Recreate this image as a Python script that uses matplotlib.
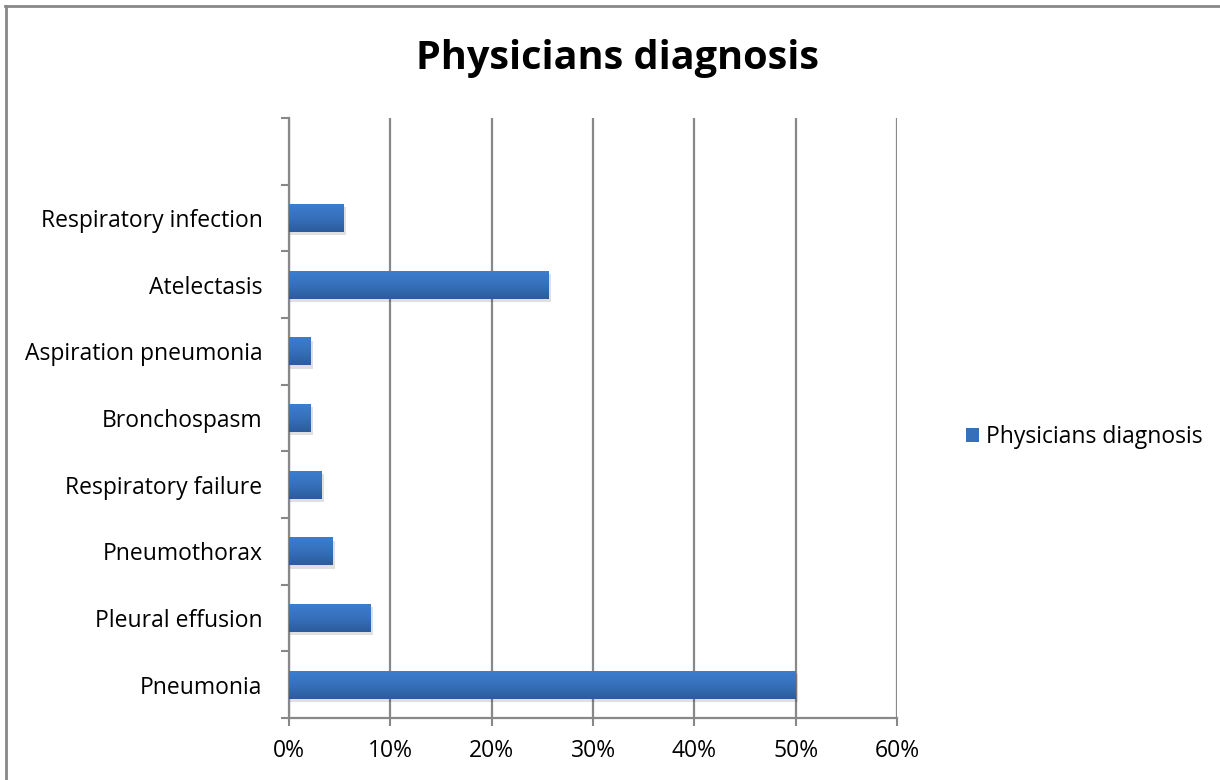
import matplotlib.pyplot as plt
import numpy as np
from matplotlib.lines import Line2D
from matplotlib.colors import LinearSegmentedColormap

# data (bottom to top), last slot is empty
categories = ['Pneumonia', 'Pleural effusion', 'Pneumothorax', 'Respiratory failure',
              'Bronchospasm', 'Aspiration pneumonia', 'Atelectasis', 'Respiratory infection']
values = [50.0, 8.0, 4.3, 3.25, 2.15, 2.15, 25.6, 5.35]
xticks = [0, 10, 20, 30, 40, 50, 60]
series_name = 'Physicians diagnosis'

plt.rcParams['font.family'] = ['Open Sans', 'DejaVu Sans']

fig = plt.figure(figsize=(12.2, 7.8), dpi=100)
ax = fig.add_axes([289/1220, 1-718/780, (897-289)/1220, (718-118)/780])

y = np.arange(len(categories))
bars = ax.barh(y, values, height=0.42, color='#3670bb', zorder=3)

# gradient + soft shadow for each bar
grad = np.linspace(0, 1, 64).reshape(-1, 1)
cmap = LinearSegmentedColormap.from_list('g', ['#3d7dcf', '#3670bb', '#2c5c9b'])
for b in bars:
    x0, y0 = b.get_x(), b.get_y()
    w, h = b.get_width(), b.get_height()
    ax.barh(y0 + h/2 - 0.05, w + 0.25, height=h, left=x0, color='#000000', alpha=0.12,
            zorder=2, linewidth=0)
    im = ax.imshow(grad, extent=[x0, x0 + w, y0, y0 + h], aspect='auto', cmap=cmap,
                   origin='upper', zorder=4)
    im.set_clip_path(b)

ax.set_xlim(0, 60)
ax.set_ylim(-0.5, len(categories) + 0.5)
ax.set_xticks(xticks)
ax.set_xticklabels([f'{t}%' for t in xticks], fontsize=16.5)
ax.set_yticks(y)
ax.set_yticklabels(categories, fontsize=16.5)
ax.set_yticks(np.arange(-0.5, len(categories) + 1, 1), minor=True)
ax.tick_params(axis='y', which='major', length=0, pad=19)
ax.tick_params(axis='y', which='minor', length=6, width=1.5, color='#888888')
ax.tick_params(axis='x', length=6, width=1.5, color='#888888', pad=9)
ax.grid(axis='x', color='#888888', linewidth=1.6, zorder=0)
for s in ['top', 'right']:
    ax.spines[s].set_visible(False)
ax.spines['left'].set_color('#888888')
ax.spines['left'].set_linewidth(1.6)
ax.spines['bottom'].set_color('#888888')
ax.spines['bottom'].set_linewidth(1.6)

fig.text(617/1220, 1-59/780, 'Physicians diagnosis', fontsize=28.5, fontweight='bold',
         ha='center', va='center')

leg = fig.legend([bars], [series_name], loc='center left', bbox_to_anchor=(945/1220, 1-437/780),
                 frameon=False, fontsize=16.5, handlelength=0.6, handleheight=0.6,
                 handletextpad=0.3)

# outer frame (top and left only visible)
fig.add_artist(Line2D([5/1220, 1], [1-6/780, 1-6/780], color='#888888', linewidth=2,
                      transform=fig.transFigure))
fig.add_artist(Line2D([6/1220, 6/1220], [0, 1-6/780], color='#888888', linewidth=2,
                      transform=fig.transFigure))

fig.savefig('out.png', dpi=100)
